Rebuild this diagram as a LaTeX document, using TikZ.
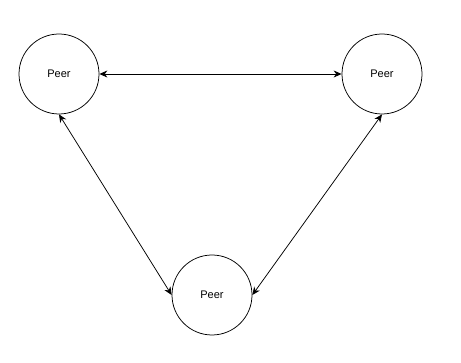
\documentclass[tikz,border=0pt]{standalone}
\usepackage{fontspec}
\setmainfont{Liberation Sans}
\usetikzlibrary{positioning, arrows.meta}
\tikzset{
    peer/.style={circle, draw=black, line width=0.75pt, minimum size=80pt, inner sep=0pt, font=\fontsize{11}{13}\selectfont},
    link/.style={{Stealth[length=8pt, width=7pt]}-{Stealth[length=8pt, width=7pt]}, line width=0.75pt, black}
}

\begin{document}
\begin{tikzpicture}[x=1pt, y=-1pt]
        	\useasboundingbox (0,0) rectangle (461,363);
        	% drei Knoten
        	\node (left) [peer] at (59,74) {Peer};
        	\node (right) [peer] at (382,74) {Peer};
        	\node (bottom) [peer] at (212,295) {Peer};
        	
        	\draw[link] (left.east) -- (right.west);
        	\draw[link] (left.south) -- (bottom.west);
        	\draw[link] (right.south) -- (bottom.east);
        \end{tikzpicture}
\end{document}
